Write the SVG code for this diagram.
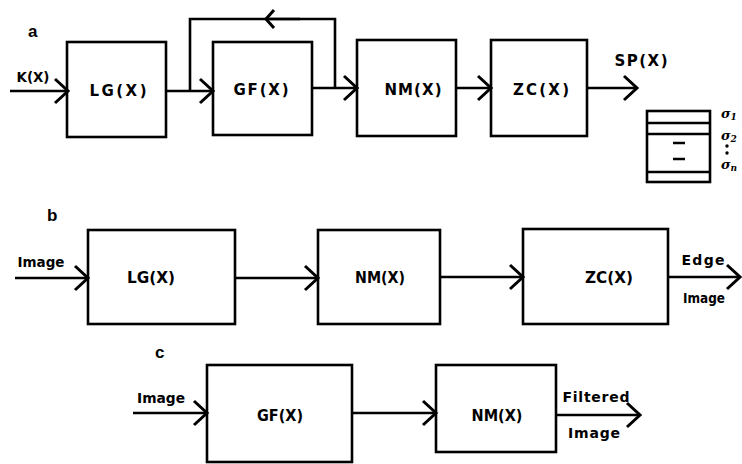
<svg xmlns="http://www.w3.org/2000/svg" width="742" height="464" viewBox="0 0 742 464">
<style>
.box{fill:none;stroke:#000;stroke-width:2.6}
.ln{fill:none;stroke:#000;stroke-width:2.6;stroke-linejoin:miter}
.arr{marker-end:url(#chev)}
.t{font-family:"DejaVu Sans","Liberation Sans",sans-serif;font-weight:bold;font-size:15px;text-anchor:middle;fill:#000}
.s{font-size:14px}
.lbl{font-family:"Liberation Sans",Arial,sans-serif;font-weight:bold;font-size:17px;fill:#000}
.sig{font-family:"DejaVu Serif","Liberation Serif",serif;font-style:italic;font-weight:bold;font-size:13px;fill:#000}
</style>
<defs>
<marker id="chev" markerUnits="userSpaceOnUse" markerWidth="30" markerHeight="30" viewBox="-16 -15 20 30" refX="0" refY="0" orient="auto">
<path d="M-13,-12 L0,0 L-13,12" fill="none" stroke="#000" stroke-width="3"/>
</marker>
<marker id="chevs" markerUnits="userSpaceOnUse" markerWidth="30" markerHeight="30" viewBox="-16 -15 20 30" refX="0" refY="0" orient="auto">
<path d="M-8,-9 L0,0 L-8,9" fill="none" stroke="#000" stroke-width="3"/>
</marker>
</defs>

<text class="lbl" x="28" y="37">a</text>
<text class="lbl" x="47" y="221">b</text>
<text class="lbl" x="155" y="358">c</text>

<g id="connectors">
<path class="ln arr" d="M10,91 H68"/>
<path class="ln arr" d="M166,91 H213"/>
<path class="ln" d="M190,91 V19 H335 V88"/>
<path class="ln" d="M300,19 H266" marker-end="url(#chevs)"/>
<path class="ln arr" d="M312,88 H357"/>
<path class="ln arr" d="M456,88 H491"/>
<path class="ln arr" d="M587,88 H637"/>
<path class="ln arr" d="M15,278 H88"/>
<path class="ln arr" d="M235,278 H318"/>
<path class="ln arr" d="M440,277 H523"/>
<path class="ln arr" d="M668,277 H740"/>
<path class="ln arr" d="M133,413 H207"/>
<path class="ln arr" d="M352,413 H436"/>
<path class="ln arr" d="M556,415 H640"/>
</g>

<g id="a_K"><text class="t s" x="33" y="82" textLength="33" lengthAdjust="spacingAndGlyphs">K(X)</text></g>
<g id="a_LG"><rect class="box" x="67" y="42" width="99" height="95"/><text class="t" x="118" y="96" textLength="57" lengthAdjust="spacing">LG(X)</text></g>
<g id="a_GF"><rect class="box" x="213" y="42" width="99" height="93"/><text class="t" x="261" y="95" textLength="55" lengthAdjust="spacing">GF(X)</text></g>
<g id="a_NM"><rect class="box" x="357" y="40" width="99" height="96"/><text class="t" x="413" y="95" textLength="57" lengthAdjust="spacing">NM(X)</text></g>
<g id="a_ZC"><rect class="box" x="491" y="40" width="96" height="96"/><text class="t" x="541" y="95" textLength="56" lengthAdjust="spacing">ZC(X)</text></g>
<g id="a_SP"><text class="t" x="641" y="66" textLength="53" lengthAdjust="spacing">SP(X)</text></g>
<g id="a_stack">
<rect class="box" x="647" y="111" width="63" height="71" stroke-width="2.2"/>
<path class="ln" d="M647,123 H710 M647,134 H710 M647,172 H710" stroke-width="2.2"/>
<path class="ln" d="M673,143 H685 M673,159 H685" stroke-width="2"/>
<text class="sig" x="721" y="118">σ<tspan font-size="9" dy="2">1</tspan></text>
<text class="sig" x="721" y="140">σ<tspan font-size="9" dy="2">2</tspan></text>
<circle cx="727" cy="146" r="1.7" fill="#000"/>
<circle cx="727" cy="153" r="1.7" fill="#000"/>
<text class="sig" x="721" y="169">σ<tspan font-size="9" dy="2">n</tspan></text>
</g>

<g id="b_in"><text class="t s" x="41" y="267" textLength="47" lengthAdjust="spacingAndGlyphs">Image</text></g>
<g id="b_LG"><rect class="box" x="88" y="230" width="147" height="94"/><text class="t" x="151" y="283" textLength="48" lengthAdjust="spacingAndGlyphs">LG(X)</text></g>
<g id="b_NM"><rect class="box" x="318" y="230" width="122" height="94"/><text class="t" x="380" y="283" textLength="50" lengthAdjust="spacingAndGlyphs">NM(X)</text></g>
<g id="b_ZC"><rect class="box" x="523" y="229" width="145" height="95"/><text class="t" x="609" y="283" textLength="48" lengthAdjust="spacingAndGlyphs">ZC(X)</text></g>
<g id="b_out"><text class="t s" x="703" y="265" textLength="43" lengthAdjust="spacing">Edge</text><text class="t s" x="704" y="303" textLength="42" lengthAdjust="spacingAndGlyphs">Image</text></g>

<g id="c_in"><text class="t s" x="161" y="403" textLength="48" lengthAdjust="spacingAndGlyphs">Image</text></g>
<g id="c_GF"><rect class="box" x="207" y="365" width="145" height="97"/><text class="t" x="280" y="421" textLength="46" lengthAdjust="spacingAndGlyphs">GF(X)</text></g>
<g id="c_NM"><rect class="box" x="436" y="365" width="120" height="87"/><text class="t" x="497" y="421" textLength="51" lengthAdjust="spacingAndGlyphs">NM(X)</text></g>
<g id="c_out"><text class="t s" x="596" y="402" textLength="67" lengthAdjust="spacing">Filtered</text><text class="t s" x="594" y="438" textLength="52" lengthAdjust="spacing">Image</text></g>
</svg>
